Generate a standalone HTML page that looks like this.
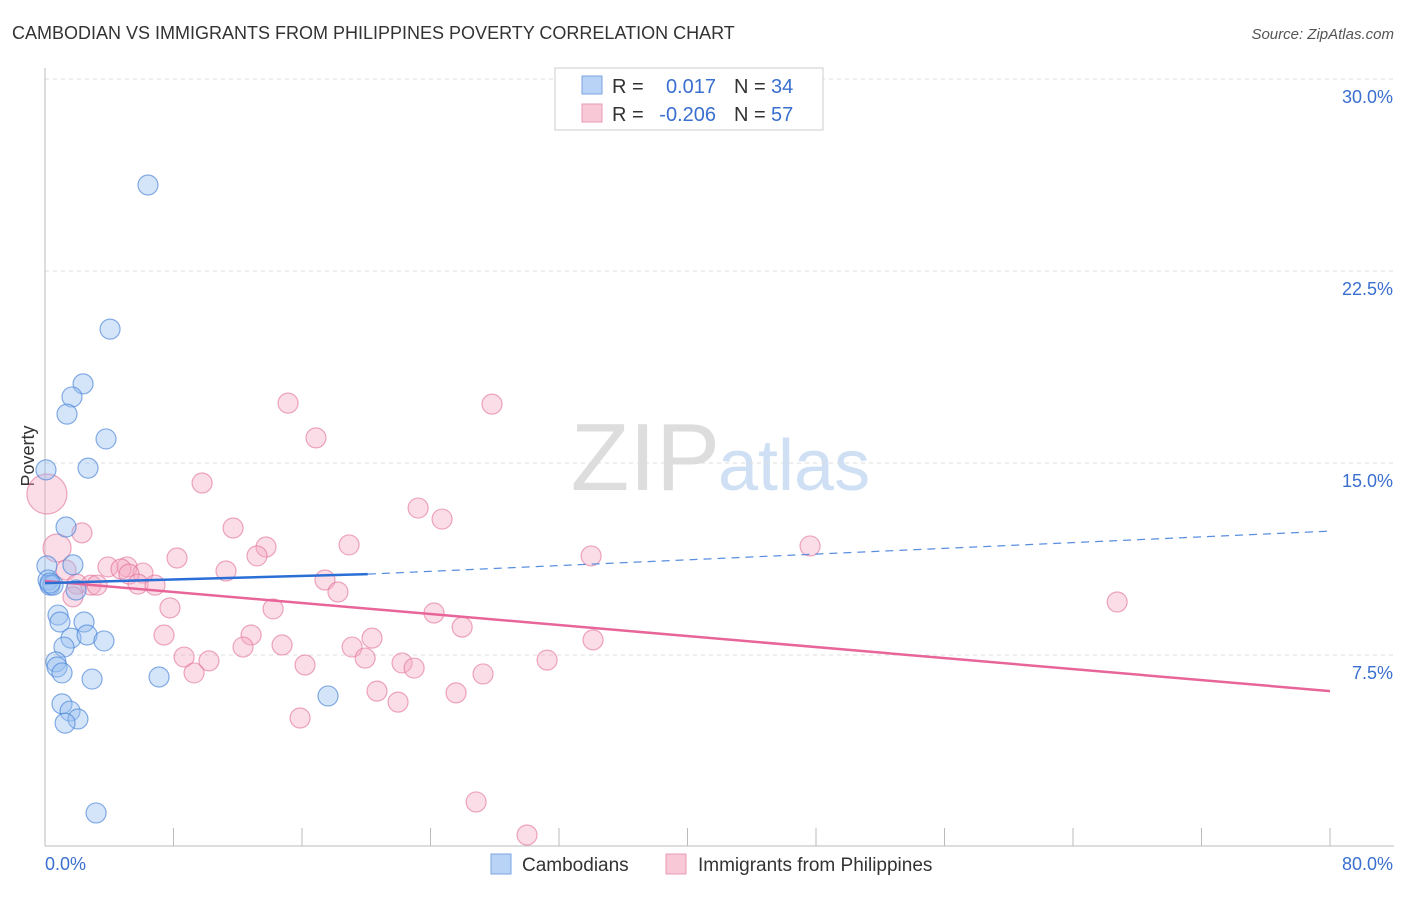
<!DOCTYPE html>
<html><head><meta charset="utf-8"><style>
body{margin:0;background:#fff;font-family:"Liberation Sans",sans-serif;}
svg text{font-family:"Liberation Sans",sans-serif;}
</style></head><body>
<svg id="chart" width="1406" height="892">
<text x="12" y="39" font-size="18" fill="#333">CAMBODIAN VS IMMIGRANTS FROM PHILIPPINES POVERTY CORRELATION CHART</text>
<text x="1394" y="39" font-size="15" fill="#555" font-style="italic" text-anchor="end">Source: ZipAtlas.com</text>
<text x="720" y="490" font-size="96" fill="#ddd" text-anchor="end" font-family="Liberation Serif">ZIP</text>
<text x="718" y="490" font-size="72" fill="#cfe0f5">atlas</text>
<text x="34" y="456" font-size="18" fill="#333" text-anchor="middle" transform="rotate(-90 34 456)">Poverty</text>
<g id="grid"></g><g id="axes"></g><g id="pts"></g><g id="trend"></g>
<g>
<rect x="555" y="68" width="268" height="62" fill="#fff" stroke="#ccc"/>
<rect x="582" y="76" width="20" height="18" fill="#b8d3f5" stroke="#7aa5e0"/>
<text x="612" y="93" font-size="20" fill="#333">R =</text>
<text x="716" y="93" font-size="20" fill="#3a6fd0" text-anchor="end">0.017</text>
<text x="734" y="93" font-size="20" fill="#333">N =</text>
<text x="771" y="93" font-size="20" fill="#3a6fd0">34</text>
<rect x="582" y="104" width="20" height="18" fill="#f9c8d6" stroke="#e99ab1"/>
<text x="612" y="121" font-size="20" fill="#333">R =</text>
<text x="716" y="121" font-size="20" fill="#3a6fd0" text-anchor="end">-0.206</text>
<text x="734" y="121" font-size="20" fill="#333">N =</text>
<text x="771" y="121" font-size="20" fill="#3a6fd0">57</text>
</g>
<g>
<rect x="491" y="854" width="20" height="20" fill="#b8d3f5" stroke="#7aa5e0"/>
<text x="522" y="871" font-size="19" fill="#333">Cambodians</text>
<rect x="666" y="854" width="20" height="20" fill="#f9c8d6" stroke="#e99ab1"/>
<text x="698" y="871" font-size="19" fill="#333">Immigrants from Philippines</text>
</g>
</svg>
<script>
const yTicks=[7.5,15,22.5,30];
const yTickLabels=["7.5%","15.0%","22.5%","30.0%"];
const xTickCount=10;
const blueX=[6.41,4.05,2.37,1.68,1.37,3.80,0.06,2.68,1.31,1.74,0.12,0.19,0.31,0.50,1.93,0.81,0.93,2.43,1.62,2.62,3.67,1.18,0.68,0.75,1.06,2.93,7.10,1.06,1.56,2.05,1.25,17.62,3.18,0.31];
const blueY=[25.86,20.23,18.09,17.58,16.91,15.94,14.73,14.80,12.50,11.02,10.98,10.43,10.23,10.23,10.04,9.06,8.79,8.79,8.16,8.28,8.05,7.81,7.23,7.03,6.80,6.56,6.64,5.59,5.31,5.00,4.84,5.90,1.33,10.31];
const pinkX=[0.12,0.75,2.30,1.31,5.11,3.92,4.73,6.10,5.23,1.99,2.86,3.24,5.79,6.85,1.74,7.78,7.41,9.78,11.71,11.27,13.76,13.20,14.20,12.83,12.33,8.22,8.66,9.28,10.21,15.13,16.87,17.43,18.24,18.93,14.76,16.19,15.88,19.12,19.93,20.36,20.67,21.98,22.23,22.98,23.23,24.72,24.22,25.97,25.59,27.27,27.83,26.84,30.01,31.26,34.00,34.12,47.63,66.75];
const pinkY=[13.79,11.68,12.27,10.82,10.94,10.94,10.86,10.70,10.66,10.27,10.23,10.23,10.27,10.23,9.77,9.34,8.28,14.22,12.46,10.78,11.72,11.37,9.30,8.28,7.81,11.29,7.42,6.80,7.27,17.34,15.98,10.43,9.96,11.80,7.89,7.11,5.04,7.81,7.38,8.16,6.09,5.66,7.19,6.99,13.24,12.81,9.14,8.59,6.02,6.76,17.30,1.76,0.47,7.30,11.37,8.09,11.76,9.57];
const pinkR=[20,14];
const blueTrend=[10.31,10.66,12.34]; // y at x=0, x=20.1 (solid end), x=80
const blueTrendX=[0,20.1,80];
const pinkTrend=[10.39,6.09];
const X0=45,X1=1330,YB=847,PPY=25.6;
const sx=v=>X0+v*(X1-X0)/80;
const sy=v=>YB-v*PPY;
const NS="http://www.w3.org/2000/svg";
function mk(tag,parent,attrs){const e=document.createElementNS(NS,tag);for(const k in attrs)e.setAttribute(k,attrs[k]);document.getElementById(parent).appendChild(e);return e;}
yTicks.forEach((t,i)=>{
 const l=mk('line','grid',{x1:45,x2:1394,y1:sy(t),y2:sy(t),stroke:'#ddd','stroke-dasharray':'4,4'});
 
 
 const tx=mk('text','grid',{x:1393,y:sy(t)+24,'font-size':18,fill:'#3a6fd0','text-anchor':'end'});
 tx.textContent=yTickLabels[i];
 
 
});
const ax=mk('line','axes',{x1:45,x2:45,y1:68,y2:846,stroke:'#bbb'});


const bx=mk('line','axes',{x1:45,x2:1394,y1:846,y2:846,stroke:'#bbb'});


for(let i=1;i<=xTickCount;i++){
 const t=mk('line','axes',{x1:sx(i*8),x2:sx(i*8),y1:828,y2:846,stroke:'#bbb'});
 
 
}
const xl=mk('text','axes',{x:45,y:870,'font-size':18,fill:'#3a6fd0'});xl.textContent='0.0%';


const xr=mk('text','axes',{x:1393,y:870,'font-size':18,fill:'#3a6fd0','text-anchor':'end'});xr.textContent='80.0%';


pinkX.forEach((x,i)=>{
 const c=mk('circle','pts',{cx:sx(x),cy:sy(pinkY[i]),r:pinkR[i]||10,fill:'rgba(245,170,195,0.4)',stroke:'rgba(225,110,150,0.6)','stroke-width':1.2});
 
 
});
blueX.forEach((x,i)=>{
 const c=mk('circle','pts',{cx:sx(x),cy:sy(blueY[i]),r:10,fill:'rgba(150,190,240,0.4)',stroke:'rgba(70,130,215,0.65)','stroke-width':1.2});
 
 
});
const pl=mk('line','trend',{x1:sx(0),y1:sy(pinkTrend[0]),x2:sx(80),y2:sy(pinkTrend[1]),stroke:'#e8659a','stroke-width':2.5});


const bl=mk('line','trend',{x1:sx(blueTrendX[0]),y1:sy(blueTrend[0]),x2:sx(blueTrendX[1]),y2:sy(blueTrend[1]),stroke:'#2a6fd6','stroke-width':2.5});


const bd=mk('line','trend',{x1:sx(blueTrendX[1]),y1:sy(blueTrend[1]),x2:sx(blueTrendX[2]),y2:sy(blueTrend[2]),stroke:'#5a8fe0','stroke-width':1.2,'stroke-dasharray':'8,6'});


</script>
</body></html>
